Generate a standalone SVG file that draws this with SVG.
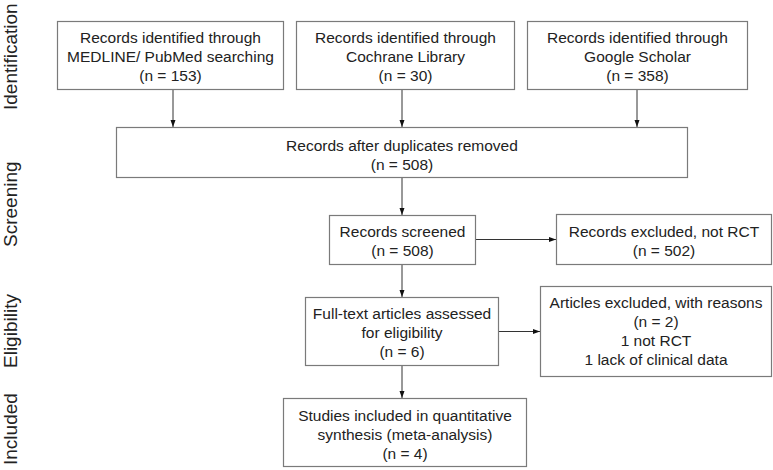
<svg xmlns="http://www.w3.org/2000/svg" width="773" height="470" viewBox="0 0 773 470">
<defs>
<style>
.box{fill:#fff;stroke:#7a7a7a;stroke-width:1.2}
.t{font-family:"Liberation Sans",Arial,sans-serif;font-size:15.5px;fill:#222;text-anchor:middle}
.side{font-family:"Liberation Sans",Arial,sans-serif;font-size:19px;fill:#222}
.c{stroke:#333;stroke-width:1;fill:none;marker-end:url(#ah)}
</style>
<marker id="ah" markerWidth="7" markerHeight="6" refX="7" refY="3" orient="auto" markerUnits="userSpaceOnUse">
<path d="M0,0.5 L7,3 L0,5.5 Z" fill="#111"/>
</marker>
</defs>
<rect width="773" height="470" fill="#fff"/>
<g id="side-labels">
<text class="side" transform="translate(16.5,110) rotate(-90)">Identification</text>
<text class="side" transform="translate(16.5,247) rotate(-90)">Screening</text>
<text class="side" transform="translate(16.5,368) rotate(-90)">Eligibility</text>
<text class="side" transform="translate(16.5,465) rotate(-90)">Included</text>
</g>
<g id="connectors">
<line class="c" x1="173" y1="89" x2="173" y2="127"/>
<line class="c" x1="402" y1="89" x2="402" y2="127"/>
<line class="c" x1="637" y1="89" x2="637" y2="127"/>
<line class="c" x1="402" y1="178" x2="402" y2="215"/>
<line class="c" x1="476" y1="239.5" x2="556" y2="239.5"/>
<line class="c" x1="402" y1="264" x2="402" y2="297"/>
<line class="c" x1="499" y1="331.5" x2="540" y2="331.5"/>
<line class="c" x1="402" y1="365" x2="402" y2="398"/>
</g>
<g id="n-medline">
<rect class="box" x="57.5" y="21.5" width="226" height="68"/>
<text class="t" x="170.5" y="43">Records identified through</text>
<text class="t" x="170.5" y="62">MEDLINE/ PubMed searching</text>
<text class="t" x="170.5" y="81">(n = 153)</text>
</g>
<g id="n-cochrane">
<rect class="box" x="296.5" y="21.5" width="218" height="68"/>
<text class="t" x="405.5" y="43">Records identified through</text>
<text class="t" x="405.5" y="62">Cochrane Library</text>
<text class="t" x="405.5" y="81">(n = 30)</text>
</g>
<g id="n-scholar">
<rect class="box" x="527.5" y="21.5" width="220" height="68"/>
<text class="t" x="637.5" y="43">Records identified through</text>
<text class="t" x="637.5" y="62">Google Scholar</text>
<text class="t" x="637.5" y="81">(n = 358)</text>
</g>
<g id="n-dup">
<rect class="box" x="116.5" y="127.5" width="571" height="50"/>
<text class="t" x="402" y="151">Records after duplicates removed</text>
<text class="t" x="402" y="170">(n = 508)</text>
</g>
<g id="n-screened">
<rect class="box" x="329.5" y="215.5" width="146" height="49"/>
<text class="t" x="402.5" y="237">Records screened</text>
<text class="t" x="402.5" y="256">(n = 508)</text>
</g>
<g id="n-excl1">
<rect class="box" x="556.5" y="214.5" width="215" height="50"/>
<text class="t" x="664" y="237">Records excluded, not RCT</text>
<text class="t" x="664" y="256">(n = 502)</text>
</g>
<g id="n-fulltext">
<rect class="box" x="305.5" y="297.5" width="193" height="68"/>
<text class="t" x="402" y="319">Full-text articles assessed</text>
<text class="t" x="402" y="338">for eligibility</text>
<text class="t" x="402" y="357">(n = 6)</text>
</g>
<g id="n-excl2">
<rect class="box" x="540.5" y="286.5" width="231" height="90"/>
<text class="t" x="656" y="308">Articles excluded, with reasons</text>
<text class="t" x="656" y="327">(n = 2)</text>
<text class="t" x="656" y="346">1 not RCT</text>
<text class="t" x="656" y="365">1 lack of clinical data</text>
</g>
<g id="n-included">
<rect class="box" x="283.5" y="398.5" width="243" height="68"/>
<text class="t" x="405" y="421">Studies included in quantitative</text>
<text class="t" x="405" y="440">synthesis (meta-analysis)</text>
<text class="t" x="405" y="459">(n = 4)</text>
</g>
</svg>
